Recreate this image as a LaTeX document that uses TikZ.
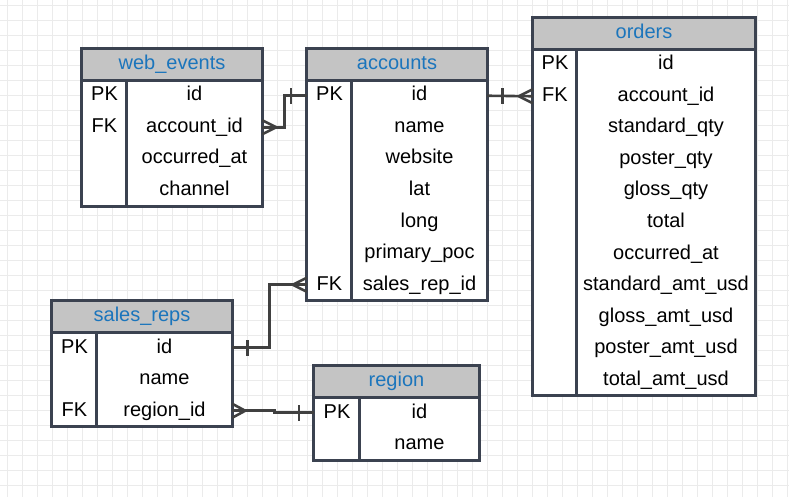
\documentclass[tikz,border=0pt]{standalone}
\usepackage{fontspec}
\setmainfont{Liberation Sans}
\usetikzlibrary{backgrounds,shadows}
\definecolor{framecol}{HTML}{3B4250}
\definecolor{headcol}{HTML}{C4C4C4}
\definecolor{titlecol}{HTML}{1B75BC}
\definecolor{linkcol}{HTML}{404040}
\definecolor{gridcol}{HTML}{EBEBEB}

\begin{document}
\begin{tikzpicture}[x=1pt,y=-1pt,
    frame/.style={draw=framecol, line width=3pt},
    head/.style={fill=headcol, text=titlecol, minimum height=31pt, inner sep=0pt, text height=14.5pt, text depth=4pt, font=\fontsize{20}{24}\selectfont},
    cell/.style={minimum height=31.5pt, inner sep=0pt, text height=14.5pt, text depth=4pt, font=\fontsize{20}{24}\selectfont},
    body/.style={fill=white, drop shadow={shadow xshift=1.5pt, shadow yshift=-1.5pt, opacity=0.2}},
    link/.style={draw=linkcol, line width=2.6pt},
    gridline/.style={draw=gridcol, line width=0.8pt}
]
\useasboundingbox (0,0) rectangle (789,497);

% background grid
\begin{scope}[on background layer]
  \fill[white] (0,0) rectangle (789,497);
  \foreach \gx in {7.7,22.7,...,787.7} {
    \draw[gridline] (\gx,0) -- (\gx,497);
  }
  \foreach \gy in {5,20,...,495} {
    \draw[gridline] (0,\gy) -- (789,\gy);
  }
\end{scope}

% web_events
\node[head, minimum width=180] (wehd) at (172,64.5) {web\_events};
\foreach \f [count=\i] in {id,account\_id,occurred\_at,channel} {
  \node[cell, minimum width=135] (wef\i) at (194.5,{64.25+31.5*\i}) {\f};
}
\node[cell, minimum width=45] (wek1) at (104.5,95.75) {PK};
\node[cell, minimum width=45] (wek2) at (104.5,127.25) {FK};
\begin{scope}[on background layer]
  \path[body] (wehd.north west) rectangle (wef4.south east);
\end{scope}
\draw[frame] (wehd.north west) rectangle (wef4.south east);
\draw[frame] (wehd.south west) -- (wehd.south east);
\draw[frame] (wef1.north west) -- (wef4.south west);

% accounts
\node[head, minimum width=180] (achd) at (397,64.5) {accounts};
\foreach \f [count=\i] in {id,name,website,lat,long,primary\_poc,sales\_rep\_id} {
  \node[cell, minimum width=135] (acf\i) at (419.5,{64.25+31.5*\i}) {\f};
}
\node[cell, minimum width=45] (ack1) at (329.5,95.75) {PK};
\node[cell, minimum width=45] (ack7) at (329.5,284.75) {FK};
\begin{scope}[on background layer]
  \path[body] (achd.north west) rectangle (acf7.south east);
\end{scope}
\draw[frame] (achd.north west) rectangle (acf7.south east);
\draw[frame] (achd.south west) -- (achd.south east);
\draw[frame] (acf1.north west) -- (acf7.south west);

% orders
\node[head, minimum width=222] (orhd) at (644,33.5) {orders};
\foreach \f [count=\i] in {id,account\_id,standard\_qty,poster\_qty,gloss\_qty,total,occurred\_at,standard\_amt\_usd,gloss\_amt\_usd,poster\_amt\_usd,total\_amt\_usd} {
  \node[cell, minimum width=178] (orf\i) at (666,{33.25+31.5*\i}) {\f};
}
\node[cell, minimum width=44] (ork1) at (555,64.75) {PK};
\node[cell, minimum width=44] (ork2) at (555,96.25) {FK};
\begin{scope}[on background layer]
  \path[body] (orhd.north west) rectangle (orf11.south east);
\end{scope}
\draw[frame] (orhd.north west) rectangle (orf11.south east);
\draw[frame] (orhd.south west) -- (orhd.south east);
\draw[frame] (orf1.north west) -- (orf11.south west);

% sales_reps
\node[head, minimum width=180] (srhd) at (142,316.5) {sales\_reps};
\foreach \f [count=\i] in {id,name,region\_id} {
  \node[cell, minimum width=135] (srf\i) at (164.5,{316.25+31.5*\i}) {\f};
}
\node[cell, minimum width=45] (srk1) at (74.5,347.75) {PK};
\node[cell, minimum width=45] (srk3) at (74.5,410.75) {FK};
\begin{scope}[on background layer]
  \path[body] (srhd.north west) rectangle (srf3.south east);
\end{scope}
\draw[frame] (srhd.north west) rectangle (srf3.south east);
\draw[frame] (srhd.south west) -- (srhd.south east);
\draw[frame] (srf1.north west) -- (srf3.south west);

% region
\node[head, minimum width=165] (rghd) at (396.5,381.5) {region};
\foreach \f [count=\i] in {id,name} {
  \node[cell, minimum width=119] (rgf\i) at (419.5,{381.25+31.5*\i}) {\f};
}
\node[cell, minimum width=46] (rgk1) at (337,412.75) {PK};
\begin{scope}[on background layer]
  \path[body] (rghd.north west) rectangle (rgf2.south east);
\end{scope}
\draw[frame] (rghd.north west) rectangle (rgf2.south east);
\draw[frame] (rghd.south west) -- (rghd.south east);
\draw[frame] (rgf1.north west) -- (rgf2.south west);

% web_events >-- accounts
\draw[link] (wef2.east) -- ++(22,0) |- (ack1.west);
\draw[link] ([xshift=14]wef2.east) -- ([yshift=7]wef2.east);
\draw[link] ([xshift=14]wef2.east) -- ([yshift=-7]wef2.east);
\draw[link] ([xshift=-16,yshift=-8]ack1.west) -- ([xshift=-16,yshift=8]ack1.west);

% accounts --< orders
\draw[link] (acf1.east) -- (ork2.west);
\draw[link] ([xshift=15,yshift=-8]acf1.east) -- ([xshift=15,yshift=8]acf1.east);
\draw[link] ([xshift=-14]ork2.west) -- ([yshift=7]ork2.west);
\draw[link] ([xshift=-14]ork2.west) -- ([yshift=-7]ork2.west);

% sales_reps --< accounts
\draw[link] (srf1.east) -- ++(37,0) |- (ack7.west);
\draw[link] ([xshift=15,yshift=-8]srf1.east) -- ([xshift=15,yshift=8]srf1.east);
\draw[link] ([xshift=-14]ack7.west) -- ([yshift=7]ack7.west);
\draw[link] ([xshift=-14]ack7.west) -- ([yshift=-7]ack7.west);

% sales_reps >-- region
\draw[link] (srf3.east) -- ++(42,0) |- (rgk1.west);
\draw[link] ([xshift=13]srf3.east) -- ([yshift=7]srf3.east);
\draw[link] ([xshift=13]srf3.east) -- ([yshift=-7]srf3.east);
\draw[link] ([xshift=-15,yshift=-8]rgk1.west) -- ([xshift=-15,yshift=8]rgk1.west);
\end{tikzpicture}
\end{document}
